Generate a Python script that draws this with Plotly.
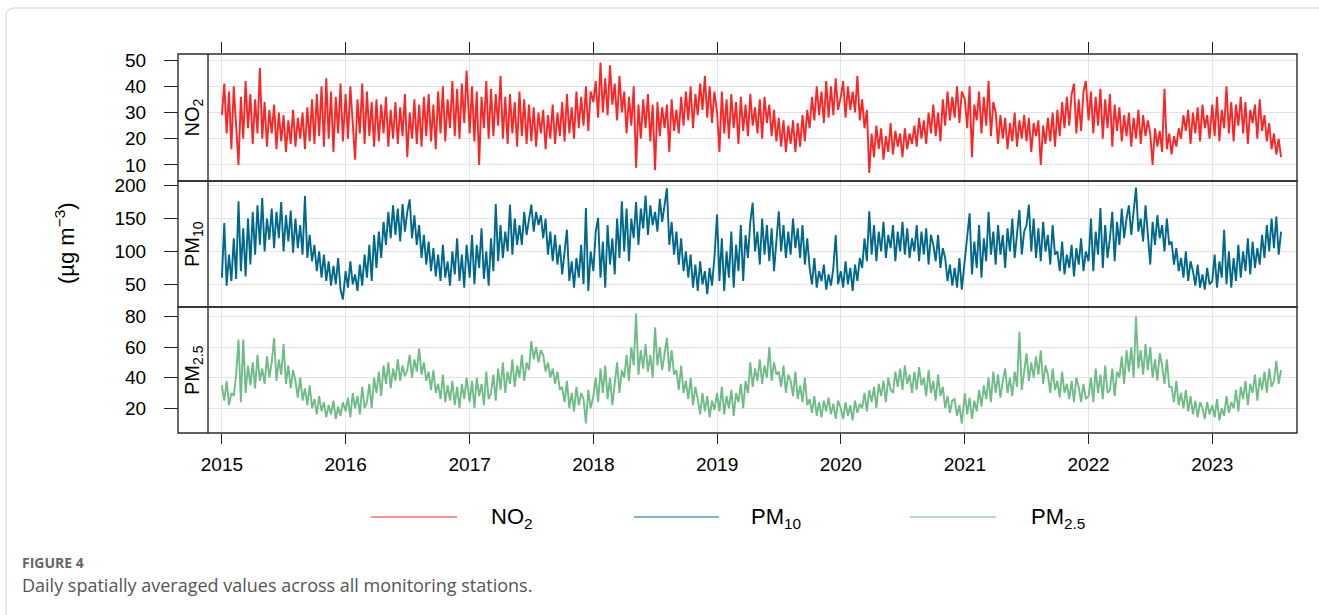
import pandas as pd
import plotly.graph_objects as go

# Weekly readings (µg m-3), one list per pollutant and year, starting 1 January
no2_2015 = [29, 41, 22, 38, 16, 40, 25, 10, 36, 20, 42, 24, 37, 18, 35, 22, 47, 20, 34, 17, 31, 22,
            33, 16, 30, 19, 29, 15, 27, 18, 31, 17, 28, 20, 30, 16, 32, 19, 35, 18, 37, 21, 40, 17,
            43, 20, 38, 15, 36, 22, 41, 19]
no2_2016 = [37, 20, 40, 24, 12, 35, 22, 41, 18, 38, 21, 34, 17, 35, 19, 33, 22, 36, 17, 31, 20, 34,
            18, 32, 21, 37, 13, 30, 20, 35, 18, 33, 17, 36, 21, 37, 19, 33, 16, 38, 22, 40, 19, 35,
            24, 42, 21, 39, 20, 41, 26, 46]
no2_2017 = [22, 40, 19, 38, 10, 36, 24, 42, 20, 39, 21, 37, 25, 44, 20, 36, 18, 37, 22, 34, 17, 38,
            21, 35, 18, 33, 19, 32, 17, 30, 22, 31, 16, 29, 20, 33, 18, 30, 21, 34, 19, 37, 22, 32,
            20, 38, 24, 36, 25, 40, 23, 38]
no2_2018 = [34, 42, 28, 49, 30, 43, 29, 48, 33, 41, 27, 44, 30, 38, 22, 36, 25, 40, 9, 33, 20, 35,
            24, 37, 19, 33, 8, 34, 21, 32, 24, 33, 15, 35, 23, 31, 22, 36, 25, 38, 27, 40, 24, 37,
            29, 41, 31, 44, 28, 40, 26, 38]
no2_2019 = [30, 15, 38, 22, 35, 20, 37, 24, 34, 18, 36, 23, 33, 21, 37, 25, 32, 22, 35, 20, 36, 26,
            33, 21, 31, 19, 28, 17, 27, 15, 25, 18, 27, 15, 26, 17, 29, 19, 31, 24, 36, 27, 40, 29,
            38, 26, 42, 28, 40, 29, 43, 31]
no2_2020 = [36, 42, 28, 40, 31, 38, 30, 44, 27, 35, 24, 31, 7, 22, 13, 25, 16, 24, 12, 21, 15, 26,
            14, 23, 17, 22, 13, 24, 16, 22, 18, 25, 17, 28, 20, 27, 18, 30, 22, 33, 21, 30, 19, 35,
            25, 38, 27, 36, 28, 40, 26, 38]
no2_2021 = [35, 24, 40, 13, 33, 27, 38, 22, 36, 25, 42, 21, 34, 30, 18, 29, 20, 28, 16, 26, 19, 30,
            17, 27, 20, 29, 19, 28, 15, 26, 21, 27, 10, 25, 18, 28, 19, 30, 17, 31, 21, 34, 24, 36,
            25, 37, 41, 22, 35, 23, 38, 42]
no2_2022 = [27, 38, 22, 36, 25, 39, 20, 35, 24, 37, 17, 33, 23, 32, 19, 29, 21, 30, 17, 28, 20, 31,
            18, 29, 21, 27, 22, 10, 24, 17, 23, 15, 39, 16, 22, 14, 21, 17, 24, 20, 29, 23, 31, 18,
            30, 22, 32, 19, 33, 24, 29, 20]
no2_2023 = [33, 21, 36, 19, 31, 24, 40, 22, 34, 19, 33, 25, 36, 22, 34, 18, 31, 26, 33, 20, 35, 23,
            29, 19, 26, 16, 22, 14, 20, 13]

pm10_2015 = [60, 143, 48, 95, 55, 120, 58, 176, 70, 135, 62, 150, 80, 160, 95, 170, 110, 181, 100, 150, 118, 165,
             105, 160, 120, 175, 100, 155, 115, 162, 98, 150, 105, 140, 95, 184, 90, 125, 85, 110, 70, 100, 60, 95,
             55, 85, 48, 78, 50, 90, 42, 27]
pm10_2016 = [70, 45, 85, 50, 65, 40, 80, 48, 95, 60, 110, 55, 125, 75, 130, 90, 145, 110, 160, 120, 170, 125,
             165, 115, 172, 130, 160, 179, 120, 155, 110, 140, 90, 125, 80, 115, 70, 105, 62, 95, 55, 110, 60, 85,
             48, 100, 65, 120, 55, 95, 45, 110]
pm10_2017 = [60, 125, 50, 110, 75, 135, 58, 100, 48, 120, 70, 172, 85, 140, 90, 130, 100, 171, 95, 150, 110, 140,
             110, 160, 125, 150, 171, 130, 160, 140, 155, 120, 150, 95, 130, 85, 125, 80, 110, 65, 95, 133, 55, 85,
             45, 90, 60, 110, 50, 166, 40, 100]
pm10_2018 = [70, 130, 151, 60, 115, 45, 140, 80, 120, 65, 150, 90, 176, 100, 165, 85, 150, 120, 175, 110, 165, 135,
             185, 125, 170, 140, 160, 130, 180, 145, 170, 196, 110, 145, 95, 130, 80, 120, 70, 100, 60, 95, 45, 80,
             40, 85, 50, 70, 35, 75, 48, 90]
pm10_2019 = [156, 55, 120, 40, 100, 60, 130, 45, 110, 70, 140, 55, 125, 90, 145, 174, 100, 130, 80, 150, 95, 140,
             85, 135, 70, 120, 161, 100, 140, 90, 130, 95, 150, 105, 135, 90, 140, 80, 120, 75, 50, 90, 45, 70,
             55, 80, 42, 65, 48, 75, 125, 50]
pm10_2020 = [70, 45, 85, 50, 75, 40, 80, 55, 90, 75, 120, 85, 161, 95, 140, 85, 130, 100, 145, 90, 125, 105,
             140, 85, 130, 100, 145, 95, 135, 90, 120, 100, 140, 85, 130, 95, 135, 80, 125, 110, 85, 125, 75, 105,
             90, 55, 80, 48, 75, 45, 90, 42]
pm10_2021 = [90, 130, 158, 65, 115, 75, 140, 60, 120, 85, 160, 95, 130, 80, 140, 95, 125, 75, 135, 100, 150, 90,
             125, 163, 95, 130, 140, 171, 100, 150, 90, 135, 85, 145, 100, 125, 80, 140, 95, 100, 70, 115, 65, 95,
             75, 110, 62, 105, 80, 120, 70, 100]
pm10_2022 = [85, 150, 70, 130, 95, 166, 75, 140, 90, 120, 160, 85, 145, 110, 165, 120, 150, 170, 125, 160, 197, 130,
             150, 115, 170, 125, 80, 145, 110, 155, 120, 140, 100, 150, 110, 115, 80, 105, 70, 90, 60, 100, 55, 85,
             70, 48, 80, 45, 65, 42, 75, 50]
pm10_2023 = [55, 95, 45, 85, 60, 133, 50, 100, 45, 90, 55, 110, 60, 100, 70, 120, 65, 115, 75, 105, 80, 125,
             90, 140, 100, 150, 105, 153, 95, 130]

pm25_2015 = [35, 25, 38, 22, 30, 28, 42, 65, 24, 65, 30, 48, 35, 50, 33, 55, 38, 46, 36, 54, 40, 50,
             66, 38, 52, 42, 62, 36, 48, 33, 45, 38, 27, 40, 25, 33, 22, 35, 20, 26, 16, 28, 18, 24,
             14, 22, 16, 25, 13, 21, 15, 24]
pm25_2016 = [18, 27, 14, 30, 20, 28, 16, 34, 20, 24, 36, 20, 40, 30, 44, 28, 48, 36, 50, 33, 46, 38,
             52, 38, 48, 41, 45, 55, 40, 52, 44, 59, 42, 50, 38, 44, 32, 45, 30, 36, 26, 42, 24, 35,
             25, 38, 22, 34, 20, 36, 26, 40]
pm25_2017 = [24, 38, 20, 40, 28, 36, 22, 44, 26, 30, 42, 25, 46, 32, 50, 30, 44, 36, 52, 34, 48, 40,
             55, 38, 50, 45, 64, 52, 60, 50, 58, 55, 44, 50, 40, 46, 36, 44, 32, 34, 24, 38, 20, 30,
             18, 34, 22, 30, 26, 10, 32, 20]
pm25_2018 = [28, 40, 24, 46, 30, 48, 26, 40, 22, 36, 50, 30, 45, 40, 55, 38, 60, 48, 82, 42, 58, 46,
             62, 44, 55, 40, 73, 48, 60, 45, 56, 66, 44, 58, 42, 45, 32, 48, 30, 38, 26, 40, 22, 34,
             26, 16, 30, 18, 28, 14, 25, 19]
pm25_2019 = [30, 18, 34, 16, 28, 20, 32, 15, 30, 24, 36, 20, 38, 30, 50, 34, 46, 38, 52, 36, 48, 40,
             60, 38, 50, 42, 44, 34, 48, 30, 42, 38, 28, 44, 26, 35, 24, 40, 22, 26, 17, 28, 15, 24,
             14, 25, 18, 27, 16, 23, 13, 25]
pm25_2020 = [20, 13, 24, 15, 22, 12, 25, 17, 23, 20, 30, 18, 32, 24, 34, 20, 36, 28, 38, 24, 40, 32,
             30, 44, 34, 46, 32, 48, 36, 42, 30, 44, 32, 47, 35, 40, 28, 45, 30, 38, 25, 42, 28, 34,
             20, 28, 17, 25, 26, 15, 22, 10]
pm25_2021 = [30, 16, 27, 13, 25, 18, 32, 21, 35, 26, 40, 24, 44, 30, 42, 27, 38, 46, 30, 40, 28, 44,
             34, 70, 32, 45, 56, 38, 50, 40, 54, 42, 58, 36, 48, 42, 30, 46, 32, 38, 27, 44, 30, 36,
             26, 38, 24, 40, 34, 24, 36, 26]
pm25_2022 = [28, 40, 24, 46, 30, 42, 26, 48, 30, 32, 46, 28, 44, 40, 54, 36, 58, 44, 60, 40, 80, 46,
             58, 42, 62, 45, 60, 40, 52, 38, 56, 48, 36, 52, 34, 34, 24, 38, 22, 30, 20, 32, 18, 28,
             16, 25, 14, 24, 20, 13, 24, 16]
pm25_2023 = [22, 14, 26, 12, 20, 15, 28, 17, 24, 20, 32, 18, 34, 26, 38, 22, 36, 30, 42, 25, 40, 32,
             44, 30, 46, 34, 38, 51, 36, 45]

years = [2015, 2016, 2017, 2018, 2019, 2020, 2021, 2022, 2023]
no2_by_year = [no2_2015, no2_2016, no2_2017, no2_2018, no2_2019, no2_2020, no2_2021, no2_2022, no2_2023]
pm10_by_year = [pm10_2015, pm10_2016, pm10_2017, pm10_2018, pm10_2019, pm10_2020, pm10_2021, pm10_2022, pm10_2023]
pm25_by_year = [pm25_2015, pm25_2016, pm25_2017, pm25_2018, pm25_2019, pm25_2020, pm25_2021, pm25_2022, pm25_2023]

tick_years = ["2015", "2016", "2017", "2018", "2019", "2020", "2021", "2022", "2023"]


def build_series(by_year):
    dates, values = [], []
    for y, vals in zip(years, by_year):
        dates.extend(pd.date_range(f"{y}-01-01", periods=len(vals), freq="7D"))
        values.extend(vals)
    return dates, values


COL_NO2 = "#FF2424"
COL_PM10 = "#00688B"
COL_PM25 = "#70BC88"

W, H = 1319, 615
ML, MR, MT, MB = 178, 22, 54, 182
PW, PH = W - ML - MR, H - MT - MB


def px(x):
    return (x - ML) / PW


def py(y):
    return (H - MB - y) / PH


STRIP_R = px(208)
d_no2 = [py(181), 1.0]
d_pm10 = [py(307), py(181)]
d_pm25 = [0.0, py(307)]

fig = go.Figure()
x1, y1 = build_series(no2_by_year)
x2, y2 = build_series(pm10_by_year)
x3, y3 = build_series(pm25_by_year)
LW = 1.9
fig.add_trace(go.Scatter(x=x1, y=y1, mode="lines", line=dict(color=COL_NO2, width=LW),
                         xaxis="x3", yaxis="y", showlegend=False, name="NO2"))
fig.add_trace(go.Scatter(x=x2, y=y2, mode="lines", line=dict(color=COL_PM10, width=LW),
                         xaxis="x2", yaxis="y2", showlegend=False, name="PM10"))
fig.add_trace(go.Scatter(x=x3, y=y3, mode="lines", line=dict(color=COL_PM25, width=LW),
                         xaxis="x", yaxis="y3", showlegend=False, name="PM2.5"))

TICK_FONT = dict(family="Liberation Sans, Arial", size=19, color="#000")
GRID = "#e3e3e3"
xrange_ = ["2014-11-21", "2023-09-08"]
tickvals = [f"{t}-01-01" for t in tick_years]

common_x = dict(range=xrange_, domain=[STRIP_R, 1], type="date", showgrid=True, gridcolor=GRID,
                gridwidth=1.3, zeroline=False, showline=False, tickvals=tickvals, ticktext=tick_years)
common_y = dict(anchor="free", position=0, showgrid=True, gridcolor=GRID, gridwidth=1.3, zeroline=False,
                showline=False, ticks="outside", ticklen=14, tickwidth=1.3, tickcolor="#222",
                tickfont=TICK_FONT, ticklabelstandoff=14)

fig.update_layout(
    width=W, height=H, margin=dict(l=ML, r=MR, t=MT, b=MB),
    paper_bgcolor="white", plot_bgcolor="white",
    xaxis=dict(**common_x, anchor="y3", ticks="outside", ticklen=10, tickwidth=1.3, tickcolor="#222",
               tickfont=TICK_FONT, ticklabelstandoff=4),
    xaxis2=dict(**common_x, anchor="y2", matches="x", showticklabels=False, ticks=""),
    xaxis3=dict(**common_x, anchor="y", matches="x", side="top", showticklabels=False,
                ticks="outside", ticklen=11, tickwidth=1.3, tickcolor="#222"),
    yaxis=dict(**common_y, domain=d_no2, range=[3.9, 52.3], tickvals=[10, 20, 30, 40, 50]),
    yaxis2=dict(**common_y, domain=d_pm10, range=[15.5, 207], tickvals=[50, 100, 150, 200]),
    yaxis3=dict(**common_y, domain=d_pm25, range=[3.8, 86.3], tickvals=[20, 40, 60, 80]),
    showlegend=False,
)

shapes = []
for dom in (d_no2, d_pm10, d_pm25):
    shapes.append(dict(type="rect", xref="paper", yref="paper", x0=0, x1=1, y0=dom[0], y1=dom[1],
                       line=dict(color="#2b2b2b", width=1.4), layer="above"))
shapes.append(dict(type="line", xref="paper", yref="paper", x0=STRIP_R, x1=STRIP_R, y0=0, y1=1,
                   line=dict(color="#2b2b2b", width=1.4), layer="above"))
# outer figure frame
shapes.append(dict(type="path", xref="paper", yref="paper",
                   path=f"M {px(6)},{py(640)} L {px(6)},{py(16)} Q {px(6)},{py(8)} {px(14)},{py(8)} L {px(1330)},{py(8)}",
                   line=dict(color="#cfcfcf", width=1)))

# legend keys
legend_items = [("NO<sub>2</sub>", COL_NO2, 371, 457, 489),
                ("PM<sub>10</sub>", COL_PM10, 634, 719, 749),
                ("PM<sub>2.5</sub>", COL_PM25, 910, 996, 1029)]
annotations = []
for label, col, lx0, lx1, tx in legend_items:
    shapes.append(dict(type="line", xref="paper", yref="paper", x0=px(lx0), x1=px(lx1),
                       y0=py(517), y1=py(517), line=dict(color=col, width=1.2)))
    annotations.append(dict(xref="paper", yref="paper", x=px(tx), y=py(518), xanchor="left",
                            yanchor="middle", text=label, showarrow=False,
                            font=dict(family="Liberation Sans, Arial", size=22, color="#000")))

strip_font = dict(family="Liberation Sans, Arial", size=20, color="#000")
for label, dom in (("NO<sub>2</sub>", d_no2), ("PM<sub>10</sub>", d_pm10), ("PM<sub>2.5</sub>", d_pm25)):
    annotations.append(dict(xref="paper", yref="paper", x=STRIP_R / 2, y=(dom[0] + dom[1]) / 2,
                            text=label, textangle=-90, showarrow=False, font=strip_font,
                            xanchor="center", yanchor="middle"))

annotations.append(dict(xref="paper", yref="paper", x=px(65), y=py(243), text="(µg m<sup>−3</sup>)",
                        textangle=-90, showarrow=False, xanchor="center", yanchor="middle",
                        font=dict(family="Liberation Sans, Arial", size=22, color="#000")))

annotations.append(dict(xref="paper", yref="paper", x=px(20), y=py(562), text="<b>FIGURE 4</b>",
                        showarrow=False, xanchor="left", yanchor="middle",
                        font=dict(family="Open Sans", size=14, color="#666")))
annotations.append(dict(xref="paper", yref="paper", x=px(20), y=py(585),
                        text="Daily spatially averaged values across all monitoring stations.",
                        showarrow=False, xanchor="left", yanchor="middle",
                        font=dict(family="Open Sans", size=18, color="#555")))

fig.update_layout(shapes=shapes, annotations=annotations)
fig.write_html("out.html")
